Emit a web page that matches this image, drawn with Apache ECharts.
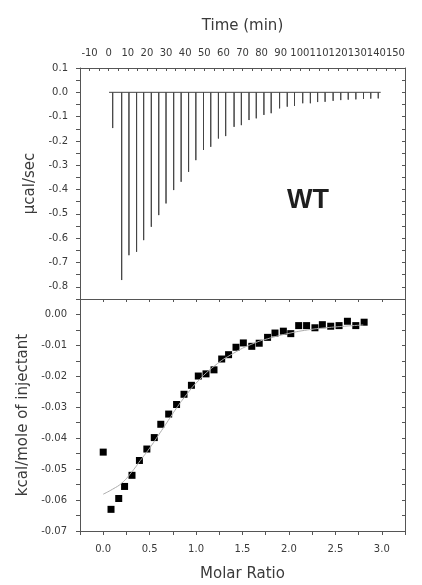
<!DOCTYPE html>
<html><head><meta charset="utf-8">
<script src="https://cdn.jsdelivr.net/npm/echarts@6/dist/echarts.min.js"></script>
<style>html,body{margin:0;padding:0;background:#fff}#c{width:422px;height:585px}</style>
</head><body><div id="c"></div>
<script>
// Raw thermogram: injection times (min) and peak heights (µcal/sec)
var injectionTimes = [2.1, 6.8, 10.6, 14.6, 18.3, 22.3, 26.2, 30.0, 34.0, 37.9, 41.8, 45.6, 49.6, 53.4, 57.4, 61.2, 65.6, 69.4, 73.4, 77.2, 81.2, 85.0, 89.4, 93.4, 97.2, 101.5, 105.5, 109.3, 113.2, 117.4, 121.4, 125.3, 129.3, 133.3, 137.1, 141.0];
var peakHeights = [-0.147, -0.772, -0.670, -0.656, -0.608, -0.553, -0.505, -0.457, -0.402, -0.368, -0.327, -0.279, -0.237, -0.224, -0.190, -0.180, -0.142, -0.135, -0.114, -0.107, -0.093, -0.086, -0.066, -0.059, -0.056, -0.045, -0.045, -0.040, -0.039, -0.035, -0.032, -0.030, -0.029, -0.027, -0.026, -0.025];
var baselineTimes = [0.2, 142.3];

// Integrated heats
var molarRatio = [0.00, 0.084, 0.167, 0.23, 0.31, 0.39, 0.47, 0.55, 0.62, 0.705, 0.79, 0.87, 0.95, 1.024, 1.107, 1.193, 1.276, 1.35, 1.43, 1.509, 1.60, 1.68, 1.77, 1.85, 1.94, 2.02, 2.105, 2.19, 2.28, 2.36, 2.45, 2.54, 2.63, 2.72, 2.81];
var heatPerMole = [-0.0445, -0.0630, -0.0595, -0.0556, -0.0520, -0.0472, -0.0435, -0.0398, -0.0355, -0.0322, -0.0291, -0.0258, -0.0229, -0.0199, -0.0192, -0.0179, -0.0144, -0.0130, -0.0106, -0.0092, -0.0103, -0.0093, -0.0074, -0.0060, -0.0054, -0.0062, -0.0036, -0.0036, -0.0043, -0.0033, -0.0038, -0.0036, -0.0022, -0.0036, -0.0025];

// Fit curve
var fitX = [0.0, 0.1, 0.2, 0.3, 0.4, 0.5, 0.6, 0.7, 0.8, 0.9, 1.0, 1.2, 1.4, 1.6, 1.8, 2.0, 2.2, 2.4, 2.6, 2.8];
var fitY = [-0.0581, -0.0565, -0.0545, -0.0512, -0.0472, -0.0432, -0.0388, -0.0343, -0.0298, -0.0258, -0.0222, -0.0166, -0.0126, -0.0096, -0.0076, -0.0061, -0.0050, -0.0043, -0.0038, -0.0034];

var thermo = [[baselineTimes[0], 0]];
for (var i = 0; i < injectionTimes.length; i++) {
  thermo.push([injectionTimes[i], 0], [injectionTimes[i], peakHeights[i]], [injectionTimes[i], 0]);
}
thermo.push([baselineTimes[1], 0]);
var points = molarRatio.map(function (x, i) { return [x, heatPerMole[i]]; });
var fit = fitX.map(function (x, i) { return [x, fitY[i]]; });

var AX = '#555', TXT = '#3a3a3a', FONT = '"DejaVu Sans", Arial, sans-serif', BOLD = 'Liberation Sans, Arial, sans-serif';
function isMult(v, step) { var r = v / step; return Math.abs(r - Math.round(r)) < 1e-6; }
var line = { show: true, onZero: false, lineStyle: { color: AX, width: 1 } };
var nameStyle = { fontSize: 15, color: TXT, fontFamily: FONT };

var chart = echarts.init(document.getElementById('c'));
chart.setOption({
  animation: false,
  textStyle: { fontFamily: FONT },
  grid: [
    { left: 80, right: 17, top: 68, height: 231 },
    { left: 80, right: 17, top: 299, height: 232 }
  ],
  graphic: [{
    type: 'text', left: 287, top: 187,
    style: { text: 'WT', font: 'bold 27px ' + BOLD, fill: '#1e1e1e' }
  }],
  xAxis: [
    { gridIndex: 0, type: 'value', position: 'top', min: -15, max: 155, interval: 5,
      name: 'Time (min)', nameLocation: 'middle', nameGap: 34, nameTextStyle: nameStyle,
      axisLine: line, splitLine: { show: false },
      axisTick: { inside: true, length: 3, lineStyle: { color: AX } },
      axisLabel: { fontSize: 10, color: TXT, margin: 10, fontFamily: FONT,
        formatter: function (v) { return isMult(v, 10) ? String(Math.round(v)) : ''; } } },
    { gridIndex: 0, type: 'value', position: 'bottom', min: -0.25, max: 3.25,
      axisLine: line, axisTick: { show: false }, axisLabel: { show: false }, splitLine: { show: false } },
    { gridIndex: 1, type: 'value', position: 'bottom', min: -0.25, max: 3.25, interval: 0.25,
      name: 'Molar Ratio', nameLocation: 'middle', nameGap: 36, nameTextStyle: nameStyle,
      axisLine: line, splitLine: { show: false },
      axisTick: { inside: false, length: 4, lineStyle: { color: AX } },
      axisLabel: { fontSize: 10, color: TXT, margin: 13, fontFamily: FONT,
        formatter: function (v) { return isMult(v, 0.5) ? v.toFixed(1) : ''; } } },
    { gridIndex: 1, type: 'value', position: 'top', min: -0.25, max: 3.25, interval: 0.25,
      axisLine: line, splitLine: { show: false },
      axisTick: { inside: true, length: 3, lineStyle: { color: AX } }, axisLabel: { show: false } }
  ],
  yAxis: [
    { gridIndex: 0, type: 'value', position: 'left', min: -0.85, max: 0.1, interval: 0.05,
      name: 'µcal/sec', nameLocation: 'middle', nameGap: 41, nameTextStyle: nameStyle,
      axisLine: line, splitLine: { show: false },
      axisTick: { inside: false, length: 4, lineStyle: { color: AX } },
      axisLabel: { fontSize: 10, color: TXT, margin: 12, fontFamily: FONT,
        formatter: function (v) { return isMult(v, 0.1) ? v.toFixed(1) : ''; } } },
    { gridIndex: 0, type: 'value', position: 'right', min: -0.85, max: 0.1, interval: 0.05,
      axisLine: line, splitLine: { show: false },
      axisTick: { inside: true, length: 3, lineStyle: { color: AX } }, axisLabel: { show: false } },
    { gridIndex: 1, type: 'value', position: 'left', min: -0.07, max: 0.005, interval: 0.005,
      name: 'kcal/mole of injectant', nameLocation: 'middle', nameGap: 41, nameTextStyle: nameStyle,
      axisLine: line, splitLine: { show: false },
      axisTick: { inside: false, length: 4, lineStyle: { color: AX } },
      axisLabel: { fontSize: 10, color: TXT, margin: 13, fontFamily: FONT,
        formatter: function (v) { return isMult(v, 0.01) ? v.toFixed(2) : ''; } } },
    { gridIndex: 1, type: 'value', position: 'right', min: -0.07, max: 0.005, interval: 0.005,
      axisLine: line, splitLine: { show: false },
      axisTick: { inside: true, length: 3, lineStyle: { color: AX } }, axisLabel: { show: false } }
  ],
  series: [
    { type: 'line', xAxisIndex: 0, yAxisIndex: 0, data: thermo, symbol: 'none',
      lineStyle: { color: '#444', width: 1 }, silent: true },
    { type: 'line', xAxisIndex: 2, yAxisIndex: 2, data: fit, symbol: 'none', smooth: true,
      lineStyle: { color: '#aaa', width: 1 }, silent: true },
    { type: 'scatter', xAxisIndex: 2, yAxisIndex: 2, data: points, symbol: 'rect', symbolSize: 7,
      itemStyle: { color: '#000', opacity: 1 }, silent: true }
  ]
});
</script></body></html>
